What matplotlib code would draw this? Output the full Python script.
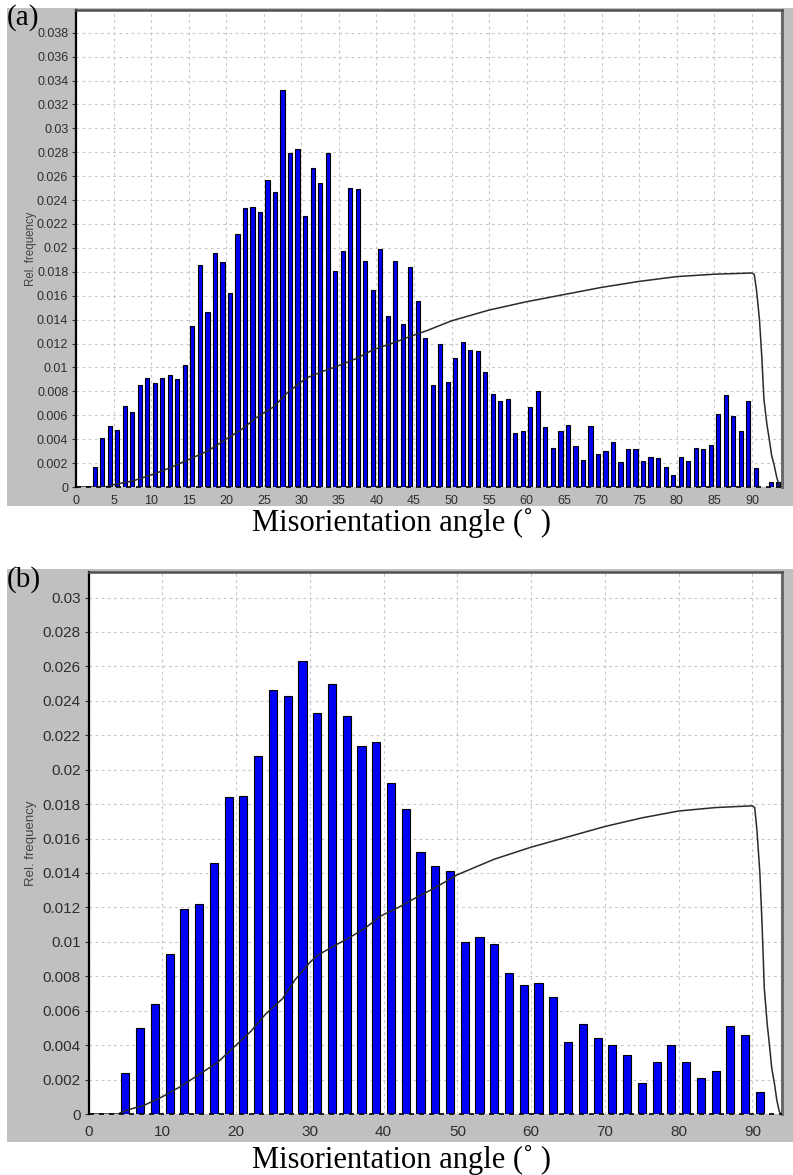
#!/usr/bin/env python3

# misorientation angle histograms, (a) 1 deg bins and (b) 2 deg bins
import matplotlib
matplotlib.use('Agg')
import matplotlib.pyplot as plt
from matplotlib.patches import Rectangle
import numpy as np

# (a) 1 degree bins, centred on x.5
bins_a = np.arange(0.5, 94, 1.0)
freq_a = [0, 0, 0.0017, 0.0041, 0.0051, 0.0048, 0.0068, 0.0063, 0.0085, 0.0091,
          0.0087, 0.0091, 0.0094, 0.0090, 0.0102, 0.0135, 0.0186, 0.0146, 0.0196, 0.0188,
          0.0162, 0.0212, 0.0233, 0.0234, 0.0230, 0.0257, 0.0247, 0.0332, 0.0279, 0.0283,
          0.0227, 0.0267, 0.0254, 0.0279, 0.0181, 0.0197, 0.0250, 0.0249, 0.0189, 0.0165,
          0.0199, 0.0143, 0.0189, 0.0136, 0.0184, 0.0156, 0.0125, 0.0085, 0.0120, 0.0088,
          0.0108, 0.0121, 0.0115, 0.0114, 0.0096, 0.0078, 0.0072, 0.0074, 0.0045, 0.0047,
          0.0067, 0.0080, 0.0050, 0.0033, 0.0047, 0.0052, 0.0034, 0.0023, 0.0051, 0.0028,
          0.0030, 0.0038, 0.0021, 0.0032, 0.0032, 0.0022, 0.0025, 0.0024, 0.0017, 0.0010,
          0.0025, 0.0022, 0.0033, 0.0032, 0.0035, 0.0061, 0.0077, 0.0059, 0.0047, 0.0072,
          0.0016, 0, 0.0004, 0.0004]

# (b) 2 degree bins, centred on odd angles
bins_b = np.arange(1, 94, 2)
freq_b = [0, 0, 0.0024, 0.0050, 0.0064, 0.0093, 0.0119, 0.0122, 0.0146, 0.0184,
          0.0185, 0.0208, 0.0246, 0.0243, 0.0263, 0.0233, 0.0250, 0.0231, 0.0214, 0.0216,
          0.0192, 0.0177, 0.0152, 0.0144, 0.0141, 0.0100, 0.0103, 0.0099, 0.0082, 0.0075,
          0.0076, 0.0068, 0.0042, 0.0052, 0.0044, 0.0040, 0.0034, 0.0018, 0.0030, 0.0040,
          0.0030, 0.0021, 0.0025, 0.0051, 0.0046, 0.0013, 0]

# random distribution curve (same in both panels)
curve_deg = [0, 4, 5, 7.5, 10, 12.5, 15, 17.5, 20, 22, 24, 26.3, 28, 30, 31, 33,
             35.2, 37.5, 39.6, 42, 44.1, 46.8, 50, 55, 60, 65, 70, 75, 80, 85, 90,
             90.3, 90.6, 91.0, 91.3, 91.6, 92.0, 92.3, 92.6, 93.0, 93.3, 93.6, 93.8, 94]
curve_val = [0, 0, 0.0002, 0.0005, 0.0010, 0.0016, 0.0023, 0.0030, 0.0040, 0.0048,
             0.0058, 0.0067, 0.0078, 0.0088, 0.0092, 0.0097, 0.0102, 0.0108, 0.0115,
             0.0120, 0.0125, 0.0131, 0.0139, 0.0148, 0.0155, 0.0161, 0.0167, 0.0172,
             0.0176, 0.0178, 0.0179, 0.0178, 0.0165, 0.0140, 0.0110, 0.0073, 0.0052,
             0.0040, 0.0027, 0.0017, 0.0008, 0.0002, 0, 0]

W, H = 793, 1175


def px_box(left, top, right, bottom):
    # pixel box -> figure fraction [l, b, w, h]
    return [left / W, 1 - bottom / H, (right - left) / W, (bottom - top) / H]


def draw_panel(fig, box, gray, bins, freq, width, xstep, ylim, yticks,
               fs, xpad, ylabel_fs, letter, letter_y, xlabel_y):
    # gray window background behind the plot
    fig.patches.append(Rectangle((gray[0] / W, 1 - gray[3] / H),
                                 (gray[2] - gray[0]) / W, (gray[3] - gray[1]) / H,
                                 transform=fig.transFigure, facecolor='#c0c0c0',
                                 edgecolor='none', zorder=-10))
    ax = fig.add_axes(px_box(*box))
    ax.set_zorder(1)
    ax.set_facecolor('white')

    ax.bar(bins, freq, width=width, color='#0000f5', edgecolor='black',
           linewidth=0.8, zorder=3)
    ax.plot(curve_deg, curve_val, color='#2a2a2a', linewidth=1.1, zorder=4)

    ax.set_xlim(0, 94)
    ax.set_ylim(0, ylim)
    ax.set_xticks(np.arange(0, 91, xstep))
    ax.set_yticks(yticks)
    ax.set_yticklabels(['%g' % round(v, 3) for v in yticks])

    ax.grid(True, color='#c8c8c8', linestyle=(0, (2.5, 3)), linewidth=0.8, zorder=0)
    ax.set_axisbelow(True)
    ax.axhline(0, color='black', linestyle=(0, (3, 3)), linewidth=1.2, zorder=5,
               clip_on=False)

    ax.tick_params(axis='x', length=0, pad=xpad, labelsize=fs,
                   labelcolor='#2e2e2e')
    ax.tick_params(axis='y', length=3, width=0.8, pad=2.5, labelsize=fs,
                   labelcolor='#2e2e2e', color='#333333')
    for lab in ax.get_xticklabels() + ax.get_yticklabels():
        lab.set_fontfamily('Liberation Sans')

    ax.spines['left'].set_color('black')
    ax.spines['left'].set_linewidth(1.6)
    ax.spines['top'].set_color('#505050')
    ax.spines['top'].set_linewidth(1.8)
    ax.spines['right'].set_color('#6a6a6a')
    ax.spines['right'].set_linewidth(2.2)
    ax.spines['bottom'].set_visible(False)

    yc = 1 - (box[1] + box[3]) / 2 / H
    fig.text(31 / W, yc, 'Rel. frequency', rotation=90, ha='center',
             va='center', fontsize=ylabel_fs, color='#444444',
             family='Liberation Sans', zorder=5)
    fig.text(7 / W, 1 - letter_y / H, letter, ha='left', va='top',
             fontsize=21, family='Liberation Serif', zorder=5)
    fig.text(401 / W, 1 - xlabel_y / H, 'Misorientation angle (˚ )',
             ha='center', va='baseline', fontsize=22, family='Liberation Serif')
    return ax


def main():
    fig = plt.figure(figsize=(W / 100, H / 100), dpi=100)

    draw_panel(fig, (76, 10, 782, 487), (7, 8, 793, 506), bins_a, freq_a,
               0.55, 5, 0.0399, np.arange(0, 0.0381, 0.002), 9, 6, 8.3,
               '(a)', 4, 531)
    draw_panel(fig, (88.5, 571.7, 782, 1114), (7, 569, 793, 1142), bins_b, freq_b,
               1.1, 10, 0.0315, np.arange(0, 0.0301, 0.002), 11, 8, 9.5,
               '(b)', 566, 1168)

    fig.savefig('out.png', dpi=100)


if __name__ == '__main__':
    main()
